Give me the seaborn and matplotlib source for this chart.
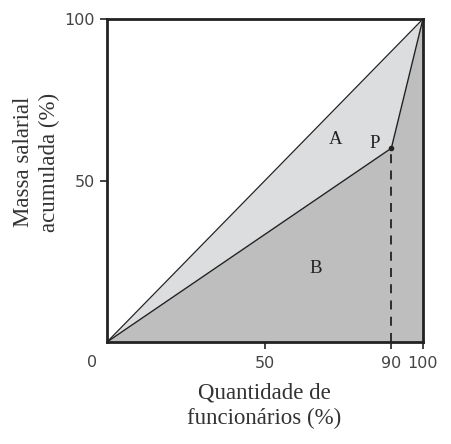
import matplotlib
matplotlib.use("Agg")
import matplotlib.pyplot as plt
import seaborn as sns

# Dados (curva de Lorenz)
func = [0, 90, 100]
massa = [0, 60, 100]
igualdade_x = [0, 100]
igualdade_y = [0, 100]
ponto_p = (90, 60)
xticks = [50, 90, 100]
yticks = [50, 100]

sns.set_style("white")
plt.rcParams['font.family'] = ['DejaVu Sans']

fig = plt.figure(figsize=(4.52, 4.44), dpi=100)
ax = fig.add_axes([0.2367, 0.2297, 0.699, 0.7275])

# Regiões A e B
ax.fill_between(igualdade_x, igualdade_y, color="#dcdddf", lw=0)
ax.fill_between(func, massa, color="#bebebf", lw=0)

# Linhas
sns.lineplot(x=igualdade_x, y=igualdade_y, ax=ax, color="#222222", lw=0.9)
sns.lineplot(x=func, y=massa, ax=ax, color="#222222", lw=1.0)
ax.plot([ponto_p[0], ponto_p[0]], [0, ponto_p[1]], color="#222222", lw=1.3,
        linestyle=(0, (5, 4)), clip_on=False)
ax.plot(*ponto_p, "o", color="#222222", ms=3)

serif = ['Liberation Serif', 'DejaVu Serif']
ax.text(72.5, 62.8, "A", family=serif, fontsize=13.5, ha="center", va="center", color="#222222")
ax.text(84.6, 61.6, "P", family=serif, fontsize=13.5, ha="center", va="center", color="#222222")
ax.text(66.1, 22.9, "B", family=serif, fontsize=13.5, ha="center", va="center", color="#222222")

ax.set_xlim(0, 100)
ax.set_ylim(0, 100)
ax.set_xticks(xticks)
ax.set_yticks(yticks)
ax.tick_params(axis="both", direction="out", length=5, width=1.2, color="#222222",
               labelsize=11.5, labelcolor="#444444", bottom=True, left=True)
ax.tick_params(axis="x", pad=5)
for s in ax.spines.values():
    s.set_color("#222222")
    s.set_linewidth(2)
ax.text(-4.8, -6.2, "0", fontsize=11.5, color="#444444", ha="center", va="center",
        clip_on=False)

ax.set_xlabel("Quantidade de\nfuncionários (%)", family=serif, fontsize=16.5,
              color="#333333", linespacing=1.3)
ax.set_ylabel("Massa salarial\nacumulada (%)", family=serif, fontsize=16.5,
              color="#333333", linespacing=1.3)
ax.xaxis.set_label_coords(0.497, -0.125)
ax.yaxis.set_label_coords(-0.148, 0.557)

fig.savefig("out.png", dpi=100)
